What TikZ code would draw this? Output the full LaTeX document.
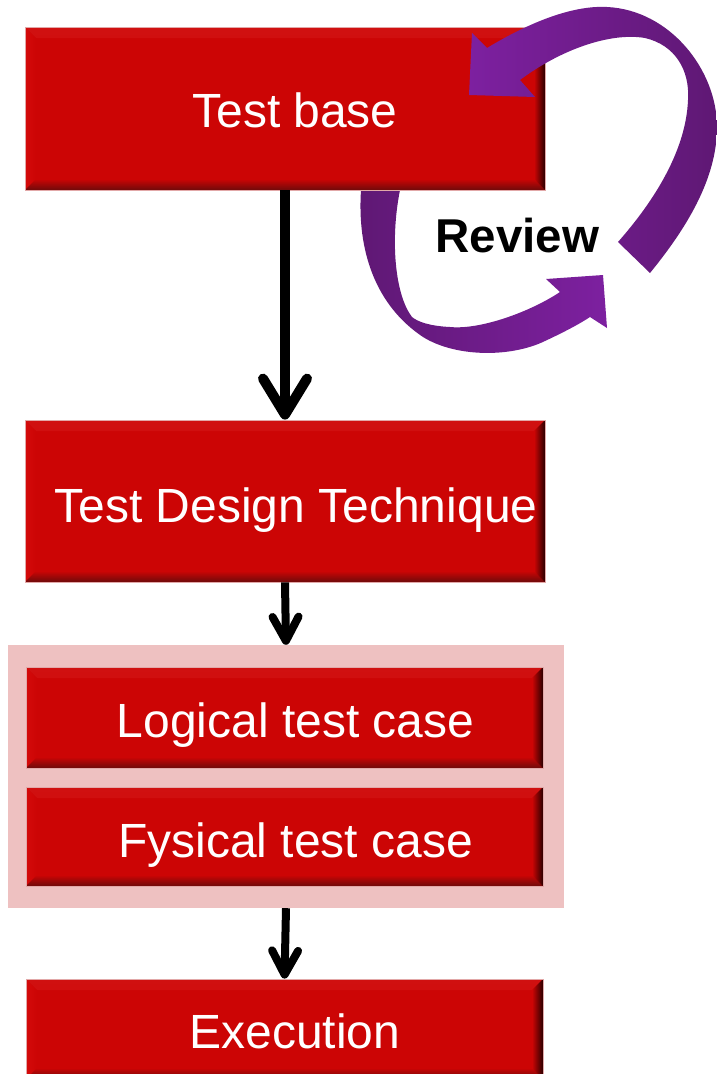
\documentclass[tikz,border=0pt]{standalone}
\usepackage{fontspec}
\setmainfont{Liberation Sans}
\usetikzlibrary{arrows.meta}

\definecolor{boxred}{HTML}{CC0505}
\definecolor{bevtop}{HTML}{FF3535}
\definecolor{bevtopedge}{HTML}{D01010}
\definecolor{bevbot}{HTML}{6E0A0A}
\definecolor{bevright}{HTML}{2A0000}
\definecolor{bevleft}{HTML}{D40A0A}
\definecolor{boxrim}{HTML}{E2A8A8}
\definecolor{grppink}{HTML}{EEC1C1}
\definecolor{purplelight}{HTML}{7D20A0}
\definecolor{purpledark}{HTML}{5F1874}

\newcommand{\bv}{11pt}

\tikzset{
  bevelbox/.style={rectangle, inner sep=0pt, fill=boxred, draw=boxrim, line width=0.8pt,
    path picture={
      % top bevel
      \shade[top color=bevtopedge, middle color=bevtop, bottom color=boxred]
        (path picture bounding box.north west) -- (path picture bounding box.north east)
        -- ([shift={(-\bv,-\bv)}]path picture bounding box.north east)
        -- ([shift={(\bv,-\bv)}]path picture bounding box.north west) -- cycle;
      % left bevel
      \shade[left color=bevleft, right color=boxred]
        (path picture bounding box.north west) -- (path picture bounding box.south west)
        -- ([shift={(\bv,\bv)}]path picture bounding box.south west)
        -- ([shift={(\bv,-\bv)}]path picture bounding box.north west) -- cycle;
      % bottom bevel
      \shade[top color=boxred, bottom color=bevbot]
        (path picture bounding box.south west) -- (path picture bounding box.south east)
        -- ([shift={(-\bv,\bv)}]path picture bounding box.south east)
        -- ([shift={(\bv,\bv)}]path picture bounding box.south west) -- cycle;
      % right bevel
      \shade[left color=boxred, right color=bevright]
        (path picture bounding box.north east) -- (path picture bounding box.south east)
        -- ([shift={(-\bv,\bv)}]path picture bounding box.south east)
        -- ([shift={(-\bv,-\bv)}]path picture bounding box.north east) -- cycle;
    }},
  lbl/.style={text=white, inner sep=0pt, anchor=base, font=\fontsize{48}{57}\selectfont},
  flowbig/.style={line width=10pt, -{Straight Barb[length=36pt,width=44pt,round]}},
  flowsmall/.style={line width=8pt, -{Straight Barb[length=24pt,width=26pt,round]}},
  loopup/.style={left color=purplelight, right color=purpledark},
  loopdown/.style={left color=purpledark, right color=purplelight},
}

\begin{document}
\begin{tikzpicture}[x=1pt, y=-1pt]
\useasboundingbox (0,0) rectangle (717,1074);
\clip (0,0) rectangle (717,1074);

% lower review arrow, its tail runs under the Test base box
\shade[loopdown]
  (360,170) -- (361,190) .. controls (357,250) and (375,305) .. (423,337)
  .. controls (455,357) and (510,358) .. (545,341)
  .. controls (560,334) and (578,325) .. (590,317)
  -- (607,328) -- (603,275) -- (546,279) -- (560,292)
  .. controls (530,312) and (480,330) .. (450,327)
  .. controls (430,326) and (418,322) .. (412,317)
  .. controls (395,295) and (390,240) .. (400,190) -- (402,170) -- cycle;

% group of test cases
\node[rectangle, fill=grppink, minimum width=556pt, minimum height=263pt] (grp) at (286,776.5) {};

% boxes
\node[bevelbox, minimum width=520pt, minimum height=163pt] (tb)  at (285,108.5) {};
\node[bevelbox, minimum width=520pt, minimum height=162pt] (tdt) at (285,501) {};
\node[bevelbox, minimum width=517pt, minimum height=101pt] (ltc) at (284.5,717.5) {};
\node[bevelbox, minimum width=517pt, minimum height=99pt]  (ftc) at (284.5,836.5) {};
\node[bevelbox, minimum width=517pt, minimum height=100pt] (exe) at (284.5,1029) {};

% box labels
\node[lbl] (tbtext)  at (295,127)  {Test base};
\node[lbl] (tdttext) at (296,522)  {Test Design Technique};
\node[lbl] (ltctext) at (295.5,737) {Logical test case};
\node[lbl] (ftctext) at (295.5,857) {Fysical test case};
\node[lbl] (exetext) at (295,1048) {Execution};

% flow
\draw[flowbig]   (tb.south)  -- (tdt.north);
\draw[flowsmall] (tdt.south) -- (grp.north);
\draw[flowsmall] (grp.south) -- (exe.north);

% upper review arrow, pointing back into Test base
\shade[loopup]
  (618,242) -- (650,273) .. controls (685,230) and (717,180) .. (717,127)
  .. controls (717,70) and (670,10) .. (607,7)
  .. controls (570,5) and (525,25) .. (487,48)
  -- (472,33) -- (469,95) -- (535,97) -- (520,80)
  .. controls (560,50) and (610,32) .. (645,38)
  .. controls (675,45) and (690,70) .. (688,100)
  .. controls (686,150) and (655,200) .. (618,242) -- cycle;

\node[inner sep=0pt, anchor=base, font=\fontsize{47.5}{57}\selectfont\bfseries] (review) at (517.5,252) {Review};
\end{tikzpicture}
\end{document}
